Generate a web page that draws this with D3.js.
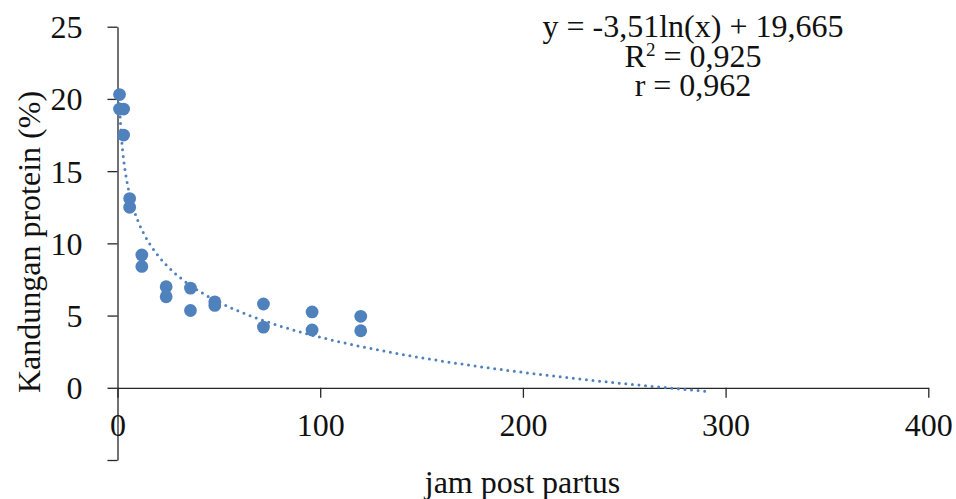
<!DOCTYPE html>
<html>
<head>
<meta charset="utf-8">
<script src="https://cdn.jsdelivr.net/npm/d3@7"></script>
<style>
  html, body { margin: 0; padding: 0; background: #fff; }
  svg { display: block; font-family: "Liberation Serif", "Times New Roman", serif; }
</style>
</head>
<body>
<svg width="956" height="499"></svg>
<script>
// hours after calving, two samples per time point
const hours   = [1, 1, 3, 3, 6, 6, 12, 12, 24, 24, 36, 36, 48, 48, 72, 72, 96, 96, 120, 120];
const protein = [20.3, 19.3, 19.3, 17.5, 13.1, 12.5, 9.2, 8.4, 7.0, 6.3, 6.9, 5.35, 5.95, 5.7, 5.8, 4.2, 5.25, 4.0, 4.95, 3.95];

const xTicks = [0, 100, 200, 300, 400];
const yTicks = [-5, 0, 5, 10, 15, 20, 25];

// log trendline shown in the chart
const trendA = -3.51, trendB = 19.665;
const trendFrom = 1, trendTo = 290;

const eqLines = ["y = -3,51ln(x) + 19,665", "R", "r = 0,962"];

const svg = d3.select('svg');
const x = d3.scaleLinear().domain([0, 400]).range([117.5, 928.3]);
const y = d3.scaleLinear().domain([-5, 25]).range([460, 26.7]);
const axisColor = '#262626';

// y axis
const yAxis = svg.append('g')
  .attr('transform', `translate(${x(0)},0)`)
  .call(d3.axisLeft(y).tickValues(yTicks).tickSize(10).tickSizeOuter(0).tickPadding(25)
    .tickFormat(d => d < 0 ? '' : d));
yAxis.select('.domain').attr('stroke', axisColor).attr('stroke-width', 1.3);
yAxis.selectAll('.tick line').attr('stroke', axisColor).attr('stroke-width', 1.3);
yAxis.selectAll('.tick text')
  .attr('font-size', 32).attr('fill', '#111')
  .attr('font-family', '"Liberation Serif", serif')
  .attr('dy', '0.34em');

// x axis crosses at y = 0
const xAxis = svg.append('g')
  .attr('transform', `translate(0,${y(0)})`)
  .call(d3.axisBottom(x).tickValues(xTicks).tickSize(10).tickSizeOuter(0));
xAxis.select('.domain').attr('stroke', axisColor).attr('stroke-width', 1.3);
xAxis.selectAll('.tick line').attr('stroke', axisColor).attr('stroke-width', 1.3);
xAxis.selectAll('.tick text')
  .attr('font-size', 32).attr('fill', '#111')
  .attr('font-family', '"Liberation Serif", serif')
  .attr('y', 48.5).attr('dy', 0);

// trendline
const trendPts = d3.range(trendFrom, trendTo + 0.01, 0.5);
svg.append('path')
  .datum(trendPts)
  .attr('fill', 'none')
  .attr('stroke', '#4F81BD')
  .attr('stroke-width', 3)
  .attr('stroke-linecap', 'round')
  .attr('stroke-dasharray', '0 6.6')
  .attr('d', d3.line().x(d => x(d)).y(d => y(trendA * Math.log(d) + trendB)));

// points
svg.append('g')
  .selectAll('circle')
  .data(hours)
  .enter()
  .append('circle')
  .attr('cx', d => x(d))
  .attr('cy', (d, i) => y(protein[i]))
  .attr('r', 6.4)
  .attr('fill', '#4F81BD');

// equation box
const eq = svg.append('g').attr('font-size', 32).attr('fill', '#111').attr('text-anchor', 'middle');
eq.append('text').attr('x', 693).attr('y', 37).text(eqLines[0]);
const r2 = eq.append('text').attr('x', 693).attr('y', 67);
r2.append('tspan').text('R');
r2.append('tspan').attr('font-size', 19).attr('dy', -11).text('2');
r2.append('tspan').attr('dy', 11).text(' = 0,925');
eq.append('text').attr('x', 693).attr('y', 96).text(eqLines[2]);

// axis titles
svg.append('text')
  .attr('transform', 'translate(40,242) rotate(-90)')
  .attr('text-anchor', 'middle')
  .attr('font-size', 32).attr('fill', '#111')
  .text('Kandungan protein (%)');

svg.append('text')
  .attr('x', 522.5).attr('y', 493)
  .attr('text-anchor', 'middle')
  .attr('font-size', 32).attr('fill', '#111')
  .text('jam post partus');
</script>
</body>
</html>
